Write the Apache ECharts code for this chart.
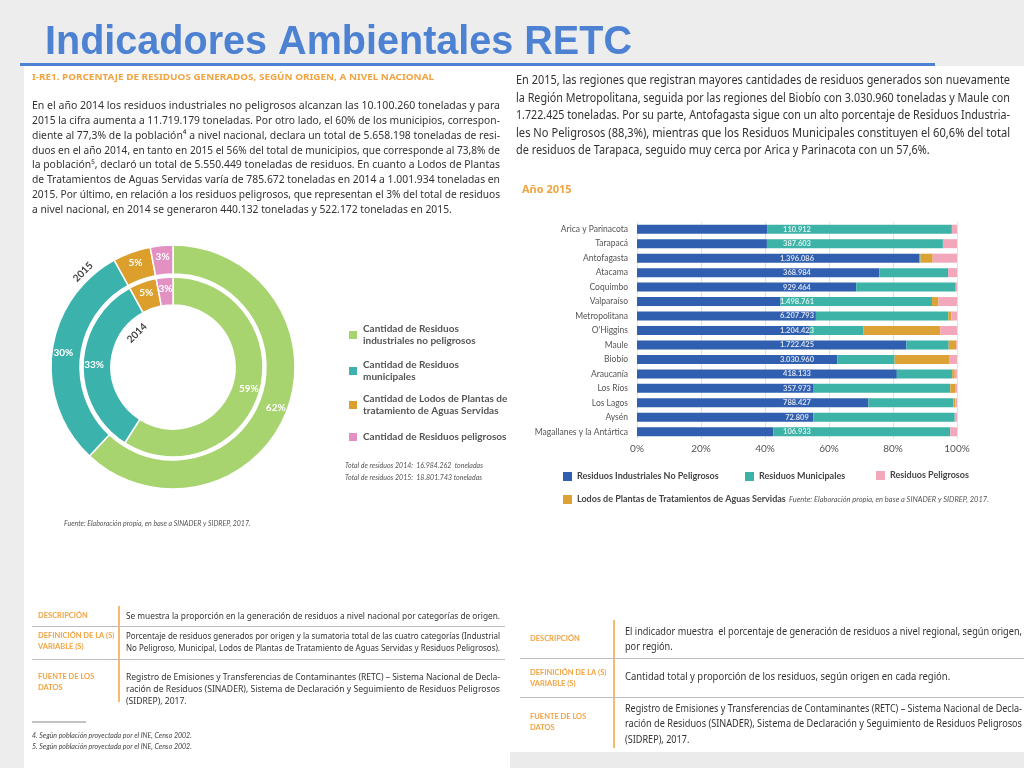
<!DOCTYPE html>
<html>
<head>
<meta charset="utf-8">
<script src="https://cdn.jsdelivr.net/npm/echarts@6/dist/echarts.min.js"></script>
<style>
html,body{margin:0;padding:0;background:#ececec;}
#c{width:1024px;height:768px;}
</style>
</head>
<body>
<div id="c"></div>
<script>
// ---------------- DATA ----------------
const regions = ['Arica y Parinacota','Tarapacá','Antofagasta','Atacama','Coquimbo','Valparaíso','Metropolitana',"O'Higgins",'Maule','Biobío','Araucanía','Los Ríos','Los Lagos','Aysén','Magallanes y la Antártica'];
const industriales = [40.8, 40.6, 88.3, 75.7, 68.5, 44.8, 55.9, 54.0, 84.2, 62.6, 81.2, 55.0, 72.3, 55.1, 42.6];
const municipales  = [57.6, 55.0, 0.3, 21.5, 31.1, 47.4, 41.4, 16.8, 13.2, 17.9, 17.3, 42.9, 26.6, 44.2, 55.3];
const lodos        = [0, 0, 3.8, 0, 0, 2.0, 0.9, 24.0, 2.4, 17.0, 0.8, 1.7, 0.6, 0, 0];
const peligrosos   = [1.6, 4.4, 7.6, 2.8, 0.4, 5.8, 1.8, 5.2, 0.2, 2.5, 0.7, 0.4, 0.5, 0.7, 2.1];
const totalLabels  = ['110.912','387.603','1.396.086','368.984','929.464','1.498.761','6.207.793','1.204.423','1.722.425','3.030.960','418.133','357.973','788.427','72.809','106.933'];
const barSeriesNames = ['Residuos Industriales No Peligrosos','Residuos Municipales','Lodos de Plantas de Tratamientos de Aguas Servidas','Residuos Peligrosos'];

const donutNames = ['Cantidad de Residuos\nindustriales no peligrosos','Cantidad de Residuos\nmunicipales','Cantidad de Lodos de Plantas de\ntratamiento de Aguas Servidas','Cantidad de Residuos peligrosos'];
const pct2014 = [59, 33, 5, 3];
const pct2015 = [62, 30, 5, 3];

// ---------------- STYLE ----------------
const barColors = ['#2f5fae','#3db3a8','#dca235','#f2a7ba'];
const donutColors = ['#a8d46f','#3cb2ad','#dc9f2c','#e391c3'];
const ORANGE = '#f2a341';
const TXT = '#333333';
const DOCFONT = 'Noto Sans';
const NARROW = "'Liberation Sans Narrow', 'Lato'";

const chart = echarts.init(document.getElementById('c'));
const mctx = document.createElement('canvas').getContext('2d');
function measure(t, size, fam, weight, style){
  mctx.font = (style||'normal')+' '+(weight||'normal')+' '+size+'px '+fam;
  return mctx.measureText(t).width;
}
const G = [];
function txt(x, y, t, o){
  o = o || {};
  const size = o.size || 10, fam = o.fam || DOCFONT, weight = o.weight || 'normal', fst = o.style || 'normal';
  let sx = 1;
  if (o.width) sx = o.width / measure(t, size, fam, weight, fst);
  if (o.scale) sx = o.scale;
  G.push({type:'text', x:x, y:y, scaleX:sx, rotation:o.rot||0, silent:true, z:10,
    style:{text:t, fontSize:size, fontFamily:fam, fontWeight:weight, fontStyle:fst, fill:o.color||TXT,
      verticalAlign:'middle', align:o.align||'left'}});
  return sx;
}
function para(lines, x, y0, lh, width, o){
  const scales = [];
  lines.forEach((l,i)=>{
    if (i < lines.length-1 || o.justifyAll){
      scales.push(txt(x, y0+i*lh, l, Object.assign({}, o, {width:width})));
    }
  });
  if (!o.justifyAll){
    const avg = scales.length ? scales.reduce((a,b)=>a+b,0)/scales.length : 1;
    txt(x, y0+(lines.length-1)*lh, lines[lines.length-1], Object.assign({}, o, {scale:avg}));
  }
}
function rect(x,y,w,h,fill,z){ G.push({type:'rect', silent:true, z:z||0, shape:{x:x,y:y,width:w,height:h}, style:{fill:fill}}); }
function line(x1,y1,x2,y2,stroke,lw){ G.push({type:'line', silent:true, z:5, shape:{x1:x1,y1:y1,x2:x2,y2:y2}, style:{stroke:stroke,lineWidth:lw||1}}); }

// background & panels
rect(0,0,1024,768,'#ededed',-10);
rect(24,66,1000,702,'#ffffff',-9);
rect(510,752,514,16,'#ebebeb',-8);

// title
txt(45, 43, 'Indicadores Ambientales RETC', {size:41, fam:'Liberation Sans', weight:'bold', color:'#4d82d2', width:587});
rect(20, 63, 915, 3, '#4d82d2', 1);

// left header and paragraph
txt(32, 77, 'I-RE1. PORCENTAJE DE RESIDUOS GENERADOS, SEGÚN ORIGEN, A NIVEL NACIONAL', {size:9, weight:'bold', color:ORANGE, width:402});
para([
 'En el año 2014 los residuos industriales no peligrosos alcanzan las 10.100.260 toneladas y para',
 '2015 la cifra aumenta a 11.719.179 toneladas. Por otro lado, el 60% de los municipios, correspon-',
 'diente al 77,3% de la población⁴ a nivel nacional, declara un total de 5.658.198 toneladas de resi-',
 'duos en el año 2014, en tanto en 2015 el 56% del total de municipios, que corresponde al 73,8% de',
 'la población⁵, declaró un total de 5.550.449 toneladas de residuos. En cuanto a Lodos de Plantas',
 'de Tratamientos de Aguas Servidas varía de 785.672 toneladas en 2014 a 1.001.934 toneladas en',
 '2015. Por último, en relación a los residuos peligrosos, que representan el 3% del total de residuos',
 'a nivel nacional, en 2014 se generaron 440.132 toneladas y 522.172 toneladas en 2015.'
], 32, 106, 14.8, 468, {size:11});

// right paragraph
para([
 'En 2015, las regiones que registran mayores cantidades de residuos generados son nuevamente',
 'la Región Metropolitana, seguida por las regiones del Biobío con 3.030.960 toneladas y Maule con',
 '1.722.425 toneladas. Por su parte, Antofagasta sigue con un alto porcentaje de Residuos Industria-',
 'les No Peligrosos (88,3%), mientras que los Residuos Municipales constituyen el 60,6% del total',
 'de residuos de Tarapaca, seguido muy cerca por Arica y Parinacota con un 57,6%.'
], 516, 81, 17.5, 494, {size:12});
txt(522, 190, 'Año 2015', {size:11, weight:'bold', color:ORANGE});

// donut ring labels
txt(83, 272, '2015', {size:10, weight:'bold', color:'#444', rot:Math.PI/4, align:'center', fam:'Lato'});
txt(137, 333, '2014', {size:10, weight:'bold', color:'#444', rot:Math.PI/4, align:'center', fam:'Lato'});

// totals & sources
txt(345, 466, 'Total de residuos 2014:  16.984.262  toneladas', {size:7, style:'italic', color:'#555', fam:'Lato'});
txt(345, 478, 'Total de residuos 2015:  18.801.743 toneladas', {size:7, style:'italic', color:'#555', fam:'Lato'});
txt(64, 524, 'Fuente: Elaboración propia, en base a SINADER y SIDREP, 2017.', {size:7, style:'italic', color:'#555', fam:'Lato'});
txt(789, 500, 'Fuente: Elaboración propia, en base a SINADER y SIDREP, 2017.', {size:7.5, style:'italic', color:'#555', fam:'Lato'});

// left table
const LBL = {size:7.5, weight:'bold', color:ORANGE, fam:'Lato'};
txt(38, 616, 'DESCRIPCIÓN', LBL);
txt(38, 636, 'DEFINICIÓN DE LA (S)', LBL);
txt(38, 647, 'VARIABLE (S)', LBL);
txt(38, 677, 'FUENTE DE LOS', LBL);
txt(38, 688, 'DATOS', LBL);
line(119, 606, 119, 702, ORANGE, 1.5);
line(32, 626.5, 505, 626.5, '#bdbdbd', 1);
line(32, 659.5, 505, 659.5, '#bdbdbd', 1);
txt(126, 616, 'Se muestra la proporción en la generación de residuos a nivel nacional por categorías de origen.', {size:9.5, width:374});
para(['Porcentaje de residuos generados por origen y la sumatoria total de las cuatro categorías (Industrial',
      'No Peligroso, Municipal, Lodos de Plantas de Tratamiento de Aguas Servidas y Residuos Peligrosos).'], 126, 636, 12, 374, {size:9.5, justifyAll:true});
para(['Registro de Emisiones y Transferencias de Contaminantes (RETC) – Sistema Nacional de Decla-',
      'ración de Residuos (SINADER), Sistema de Declaración y Seguimiento de Residuos Peligrosos',
      '(SIDREP), 2017.'], 126, 677, 12, 374, {size:9.5});
line(32, 722, 86, 722, '#555', 0.7);
txt(32, 736, '4. Según población proyectada por el INE, Censo 2002.', {size:7, style:'italic', color:'#444', fam:'Lato'});
txt(32, 747, '5. Según población proyectada por el INE, Censo 2002.', {size:7, style:'italic', color:'#444', fam:'Lato'});

// right table
txt(530, 639, 'DESCRIPCIÓN', LBL);
txt(530, 673, 'DEFINICIÓN DE LA (S)', LBL);
txt(530, 684, 'VARIABLE (S)', LBL);
txt(530, 717, 'FUENTE DE LOS', LBL);
txt(530, 728, 'DATOS', LBL);
line(614, 620, 614, 748, ORANGE, 1.5);
line(520, 658.5, 1024, 658.5, '#bdbdbd', 1);
line(520, 697.5, 1024, 697.5, '#bdbdbd', 1);
para(['El indicador muestra  el porcentaje de generación de residuos a nivel regional, según origen,',
      'por región.'], 625, 632, 15, 397, {size:10.5});
txt(625, 677, 'Cantidad total y proporción de los residuos, según origen en cada región.', {size:10.5, scale:0.9});
para(['Registro de Emisiones y Transferencias de Contaminantes (RETC) – Sistema Nacional de Decla-',
      'ración de Residuos (SINADER), Sistema de Declaración y Seguimiento de Residuos Peligrosos',
      '(SIDREP), 2017.'], 625, 709, 15.5, 397, {size:10.5});

// ---------------- CHART OPTION ----------------
const LABEL_POS = 50; // where region totals are printed (percent axis)
function legendItem(name, left, top, o){
  return Object.assign({data:[name], left:left, top:top, itemWidth:9, itemHeight:9, icon:'rect',
    selectedMode:false, padding:0, textStyle:{fontSize:9, color:'#444', fontWeight:'bold', fontFamily:'Lato'}}, o||{});
}
const DL = {itemWidth:10, itemHeight:10, textStyle:{fontSize:10, color:'#555', fontFamily:'Lato', fontWeight:'bold', lineHeight:12}};
const option = {
  backgroundColor:'transparent',
  animation:false,
  graphic: G,
  grid:{left:637, width:320, top:222, height:217},
  xAxis:{type:'value', min:0, max:100, interval:20,
    axisLabel:{formatter:'{value}%', color:'#555', fontSize:10, margin:5, fontFamily:'Lato'},
    axisLine:{show:false}, axisTick:{show:false},
    splitLine:{show:true, lineStyle:{color:'#e3e3e3', width:1}}},
  yAxis:{type:'category', data:regions, inverse:true,
    axisLabel:{color:'#555', fontSize:8.5, margin:9, fontFamily:NARROW},
    axisLine:{show:false}, axisTick:{show:false}},
  legend:[
    legendItem(barSeriesNames[0], 563, 472),
    legendItem(barSeriesNames[1], 745, 472),
    legendItem(barSeriesNames[3], 876, 471),
    legendItem(barSeriesNames[2], 563, 495),
    legendItem(donutNames[0], 347, 323, DL),
    legendItem(donutNames[1], 347, 359, DL),
    legendItem(donutNames[2], 347, 393, DL),
    legendItem(donutNames[3], 347, 431, DL)
  ],
  series:[
    {name:barSeriesNames[0], type:'bar', stack:'t', barWidth:9, data:industriales, itemStyle:{color:barColors[0]}, emphasis:{disabled:true}},
    {name:barSeriesNames[1], type:'bar', stack:'t', barWidth:9, data:municipales, itemStyle:{color:barColors[1]}, emphasis:{disabled:true}},
    {name:barSeriesNames[2], type:'bar', stack:'t', barWidth:9, data:lodos, itemStyle:{color:barColors[2]}, emphasis:{disabled:true}},
    {name:barSeriesNames[3], type:'bar', stack:'t', barWidth:9, data:peligrosos, itemStyle:{color:barColors[3]}, emphasis:{disabled:true}},
    {name:'totales', type:'scatter', symbolSize:0, silent:true, z:5,
      data: regions.map((r,i)=>[LABEL_POS, r]),
      label:{show:true, position:'inside', color:'#fff', fontWeight:'bold', fontSize:7.5, fontFamily:'Lato',
        formatter:(p)=>totalLabels[p.dataIndex]}},
    {name:'2014', type:'pie', center:[173,367], radius:[62,90], startAngle:90, silent:true,
      data: donutNames.map((n,i)=>({name:n, value:pct2014[i], itemStyle:{color:donutColors[i]}})),
      itemStyle:{borderColor:'#fff', borderWidth:1.5},
      label:{show:true, position:'inside', formatter:'{c}%', color:'#fff', fontWeight:'bold', fontSize:10, fontFamily:'Lato'},
      labelLine:{show:false}, emphasis:{disabled:true}},
    {name:'2015', type:'pie', center:[173,367], radius:[93,122], startAngle:90, silent:true,
      data: donutNames.map((n,i)=>({name:n, value:pct2015[i], itemStyle:{color:donutColors[i]}})),
      itemStyle:{borderColor:'#fff', borderWidth:1.5},
      label:{show:true, position:'inside', formatter:'{c}%', color:'#fff', fontWeight:'bold', fontSize:10, fontFamily:'Lato'},
      labelLine:{show:false}, emphasis:{disabled:true}}
  ]
};
chart.setOption(option);
</script>
</body>
</html>
